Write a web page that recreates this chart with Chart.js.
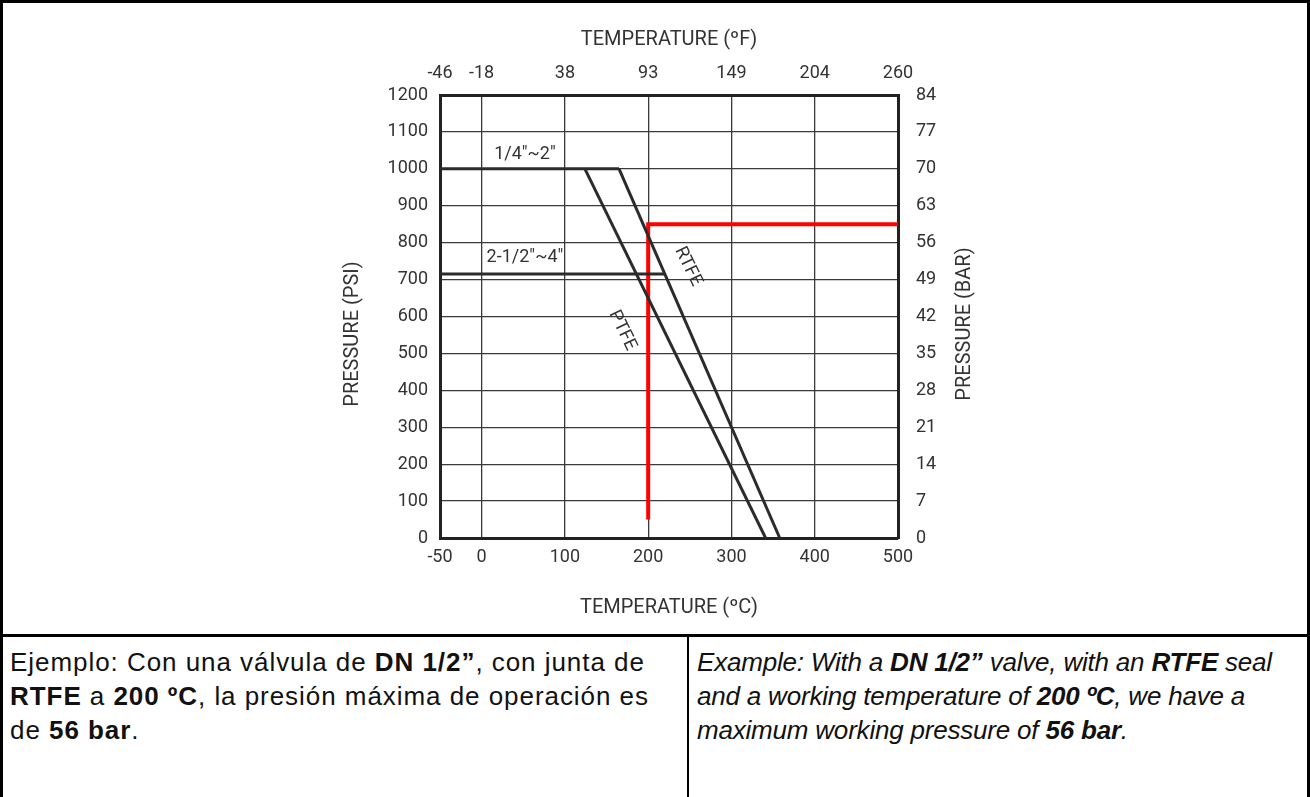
<!DOCTYPE html>
<html>
<head>
<meta charset="utf-8">
<script src="https://cdn.jsdelivr.net/npm/chart.js@4.4.1/dist/chart.umd.min.js"></script>
<style>
  html, body { margin: 0; padding: 0; background: #fff; }
  #page { position: relative; width: 1310px; height: 797px; box-sizing: border-box;
          border-left: 3px solid #000; border-right: 3px solid #000; border-top: 3px solid #000; }
  #chartBox { position: absolute; left: -3px; top: -3px; width: 1310px; height: 634px; }
  #sep { position: absolute; left: 0; right: 0; top: 631px; height: 3px; background: #000; }
  #vsep { position: absolute; left: 684px; top: 634px; bottom: 0; width: 2px; background: #000; }
  .cell { position: absolute; top: 642px; font-family: "Liberation Sans", Arial, sans-serif;
          font-size: 26px; line-height: 34px; color: #111; white-space: nowrap; }
  #es { left: 7px; letter-spacing: 0.95px; }
  #en { left: 694px; font-style: italic; letter-spacing: -0.2px; }
</style>
</head>
<body>
<div id="page">
  <div id="chartBox"><canvas id="myChart" width="1310" height="634"></canvas></div>
  <div id="sep"></div>
  <div id="vsep"></div>
  <div class="cell" id="es">Ejemplo: Con una válvula de <b>DN 1/2”</b>, con junta de<br><b>RTFE</b> a <b>200 ºC</b>, la presión máxima de operación es<br>de <b>56 bar</b>.</div>
  <div class="cell" id="en">Example: With a <b>DN 1/2”</b> valve, with an <b>RTFE</b> seal<br>and a working temperature of <b>200 ºC</b>, we have a<br>maximum working pressure of <b>56 bar</b>.</div>
</div>
<script>
// temperature ticks (ºC) and matching top labels
var tempTicks = [-50, 0, 100, 200, 300, 400, 500];
var tempTopLabels = ['-46', '-18', '38', '93', '149', '204', '260'];
var psiTicks = [0, 100, 200, 300, 400, 500, 600, 700, 800, 900, 1000, 1100, 1200];
var barLabels = ['0', '7', '14', '21', '28', '35', '42', '49', '56', '63', '70', '77', '84'];

// curves: temperature (ºC) / pressure (psi)
var small_T = [-50, 165];
var small_P = [1000, 1000];
var large_T = [-50, 220];
var large_P = [715, 715];
var ptfe_T = [124, 341];
var ptfe_P = [1000, 0];
var rtfe_T = [165, 358];
var rtfe_P = [1000, 0];
var example_T = [200, 200, 500];
var example_P = [50, 850, 850];

function pts(xs, ys) {
  return xs.map(function (x, i) { return { x: x, y: ys[i] }; });
}

var txt = '#333';
var font = { family: 'Roboto', size: 18 };
var titleFont = { family: 'Roboto', size: 20 };

// text annotations drawn on top (rotated labels and side titles)
var notes = {
  id: 'notes',
  afterDatasetsDraw: function (chart) {
    var c = chart.ctx, xs = chart.scales.x, ys = chart.scales.y;
    c.save();
    c.fillStyle = txt;
    c.font = '18px Roboto';
    c.textAlign = 'center';
    c.textBaseline = 'middle';
    c.fillText('1/4"~2"', xs.getPixelForValue(52), ys.getPixelForValue(1040));
    c.fillText('2-1/2"~4"', xs.getPixelForValue(52), ys.getPixelForValue(760));
    [['RTFE', 248, 735], ['PTFE', 169, 562]].forEach(function (n) {
      c.save();
      c.translate(xs.getPixelForValue(n[1]), ys.getPixelForValue(n[2]));
      c.rotate(64 * Math.PI / 180);
      c.fillText(n[0], 0, 0);
      c.restore();
    });
    c.font = '20px Roboto';
    [['PRESSURE (PSI)', 353, 334], ['PRESSURE (BAR)', 965, 324]].forEach(function (n) {
      c.save();
      c.translate(n[1], n[2]);
      c.rotate(-Math.PI / 2);
      c.fillText(n[0], 0, 0);
      c.restore();
    });
    c.restore();
  }
};

var ctx = document.getElementById('myChart');
var myChart = new Chart(ctx, {
  type: 'line',
  data: {
    datasets: [
      { label: '1/4"~2"', data: pts(small_T, small_P), borderColor: '#2b2b2b', borderWidth: 3 },
      { label: '2-1/2"~4"', data: pts(large_T, large_P), borderColor: '#2b2b2b', borderWidth: 3 },
      { label: 'PTFE', data: pts(ptfe_T, ptfe_P), borderColor: '#2b2b2b', borderWidth: 3 },
      { label: 'RTFE', data: pts(rtfe_T, rtfe_P), borderColor: '#2b2b2b', borderWidth: 3 },
      { label: 'Example', data: pts(example_T, example_P), borderColor: '#ff0000', borderWidth: 4 }
    ]
  },
  options: {
    responsive: false,
    animation: false,
    parsing: false,
    elements: { point: { radius: 0 }, line: { tension: 0, borderCapStyle: 'butt' } },
    layout: { padding: { left: 330, right: 302, top: 25, bottom: 10 } },
    plugins: { legend: { display: false }, tooltip: { enabled: false } },
    scales: {
      x: {
        type: 'linear', position: 'bottom', min: -50, max: 500,
        afterBuildTicks: function (s) { s.ticks = tempTicks.map(function (v) { return { value: v }; }); },
        afterFit: function (s) { s.height = 86; },
        grid: { color: '#3a3a3a', lineWidth: 1.3, drawTicks: false },
        border: { color: '#222', width: 3 },
        ticks: { color: txt, font: font, padding: 9, maxRotation: 0, callback: function (v) { return String(v); } },
        title: { display: true, text: 'TEMPERATURE (ºC)', color: txt, font: titleFont, padding: { top: 16 } }
      },
      x2: {
        type: 'linear', position: 'top', min: -50, max: 500,
        afterBuildTicks: function (s) { s.ticks = tempTicks.map(function (v) { return { value: v }; }); },
        afterFit: function (s) { s.height = 70; },
        grid: { display: false, drawTicks: false },
        border: { color: '#222', width: 3 },
        ticks: { color: txt, font: font, padding: 11, maxRotation: 0,
          callback: function (v) { return tempTopLabels[tempTicks.indexOf(v)]; } },
        title: { display: true, text: 'TEMPERATURE (ºF)', color: txt, font: titleFont, padding: { top: 3 } }
      },
      y: {
        type: 'linear', position: 'left', min: 0, max: 1200,
        afterBuildTicks: function (s) { s.ticks = psiTicks.map(function (v) { return { value: v }; }); },
        afterFit: function (s) { s.width = 110; },
        grid: { color: '#3a3a3a', lineWidth: 1.3, drawTicks: false },
        border: { color: '#222', width: 3 },
        ticks: { color: txt, font: font, padding: 12, callback: function (v) { return String(v); } }
      },
      y2: {
        type: 'linear', position: 'right', min: 0, max: 1200,
        afterBuildTicks: function (s) { s.ticks = psiTicks.map(function (v) { return { value: v }; }); },
        afterFit: function (s) { s.width = 110; },
        grid: { display: false, drawTicks: false },
        border: { color: '#222', width: 3 },
        ticks: { color: txt, font: font, padding: 18,
          callback: function (v) { return barLabels[psiTicks.indexOf(v)]; } }
      }
    }
  },
  plugins: [notes]
});
</script>
</body>
</html>
